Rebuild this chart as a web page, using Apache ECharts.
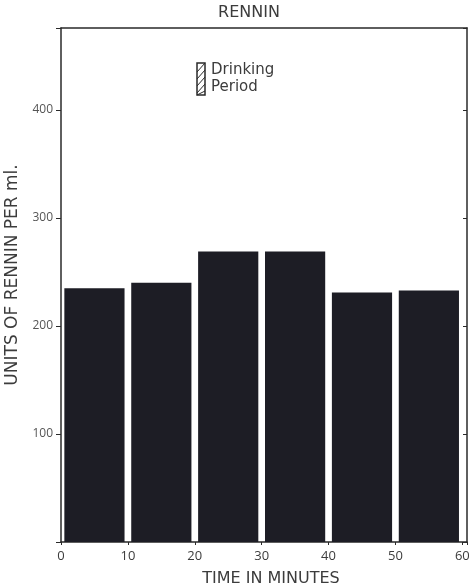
<!DOCTYPE html>
<html>
<head>
<meta charset="utf-8">
<script src="https://cdn.jsdelivr.net/npm/echarts@6/dist/echarts.min.js"></script>
<style>
html,body{margin:0;padding:0;background:#fff;}
#chart{width:474px;height:587px;}
</style>
</head>
<body>
<div id="chart"></div>
<script>
const binStart = [0, 10, 20, 30, 40, 50];
const binEnd = [10, 20, 30, 40, 50, 60];
const rennin = [235, 240, 269, 269, 231, 233];
const xTicks = [0, 10, 20, 30, 40, 50, 60];
const yTicks = [100, 200, 300, 400];
const titleText = 'RENNIN';
const xTitle = 'TIME IN MINUTES';
const yTitle = 'UNITS OF RENNIN PER ml.';
const legendLines = ['Drinking', 'Period'];

const FONT = '"Open Sans", "DejaVu Sans", sans-serif';
const WIDE = '"DejaVu Sans", sans-serif';
const TXT = '#3c3c3c';
const LINE = '#2a2a2a';

const data = binStart.map((s, i) => [s, binEnd[i], rennin[i]]);

const chart = echarts.init(document.getElementById('chart'), null, {renderer: 'canvas'});

const hatchLines = [];
for (let k = 0; k < 5; k++) {
  const y0 = 63 + k * 7;
  hatchLines.push({
    type: 'line',
    shape: {x1: 197, y1: Math.min(95, y0 + 9), x2: 205, y2: y0},
    style: {stroke: LINE, lineWidth: 1}
  });
}

chart.setOption({
  animation: false,
  backgroundColor: '#ffffff',
  grid: {left: 61, right: 7, top: 28, bottom: 45, containLabel: false, outerBoundsMode: 'none'},
  xAxis: [{
    type: 'value', min: 0, max: 60.7, interval: 10,
    axisLine: {show: true, lineStyle: {color: LINE, width: 1.5}},
    axisTick: {show: true, length: 3, lineStyle: {color: LINE}},
    splitLine: {show: false},
    axisLabel: {
      color: TXT, fontFamily: FONT, fontSize: 13, margin: 8,
      formatter: v => (xTicks.indexOf(v) >= 0 ? String(v) : '')
    },
    name: xTitle, nameLocation: 'middle', nameGap: 29,
    nameTextStyle: {color: TXT, fontFamily: WIDE, fontSize: 16, padding: [0, 0, 0, 14]}
  }, {
    type: 'value', position: 'top', min: 0, max: 60.7,
    axisLine: {show: true, onZero: false, lineStyle: {color: LINE, width: 1.5}},
    axisTick: {show: false}, axisLabel: {show: false}, splitLine: {show: false}
  }],
  yAxis: [{
    type: 'value', min: 0, max: 476, interval: 100,
    axisLine: {show: true, lineStyle: {color: LINE, width: 1.5}},
    axisTick: {show: true, length: 5, lineStyle: {color: LINE}},
    splitLine: {show: false},
    axisLabel: {
      color: '#555', fontFamily: FONT, fontSize: 12, margin: 8,
      formatter: v => (yTicks.indexOf(v) >= 0 ? String(v) : '')
    }
  }, {
    type: 'value', position: 'right', min: 0, max: 476, interval: 100,
    axisLine: {show: true, onZero: false, lineStyle: {color: LINE, width: 1.5}},
    axisTick: {show: true, inside: true, length: 4, lineStyle: {color: LINE}},
    axisLabel: {show: false}, splitLine: {show: false}
  }],
  series: [{
    type: 'custom',
    xAxisIndex: 0, yAxisIndex: 0,
    data: data,
    encode: {x: [0, 1], y: 2},
    renderItem: function (params, api) {
      const pad = 0.5;
      const p0 = api.coord([api.value(0) + pad, api.value(2)]);
      const p1 = api.coord([api.value(1) - pad, 0]);
      return {
        type: 'rect',
        shape: {x: p0[0], y: p0[1], width: p1[0] - p0[0], height: p1[1] - p0[1]},
        style: {fill: '#1d1d25'}
      };
    }
  }],
  graphic: [
    {type: 'text', x: 249, y: 13, style: {text: titleText, fill: TXT, font: '16px ' + WIDE, align: 'center', verticalAlign: 'middle'}},
    {type: 'text', x: 13, y: 275, rotation: Math.PI / 2,
      style: {text: yTitle, fill: TXT, font: '17px ' + WIDE, align: 'center', verticalAlign: 'middle'}},
    {type: 'rect', shape: {x: 197, y: 63, width: 8, height: 32}, style: {fill: 'none', stroke: LINE, lineWidth: 1.5}},
    ...hatchLines,
    {type: 'text', x: 211, y: 70, style: {text: legendLines[0], fill: TXT, font: '15px ' + WIDE, verticalAlign: 'middle'}},
    {type: 'text', x: 211, y: 87, style: {text: legendLines[1], fill: TXT, font: '15px ' + WIDE, verticalAlign: 'middle'}}
  ]
});
</script>
</body>
</html>
